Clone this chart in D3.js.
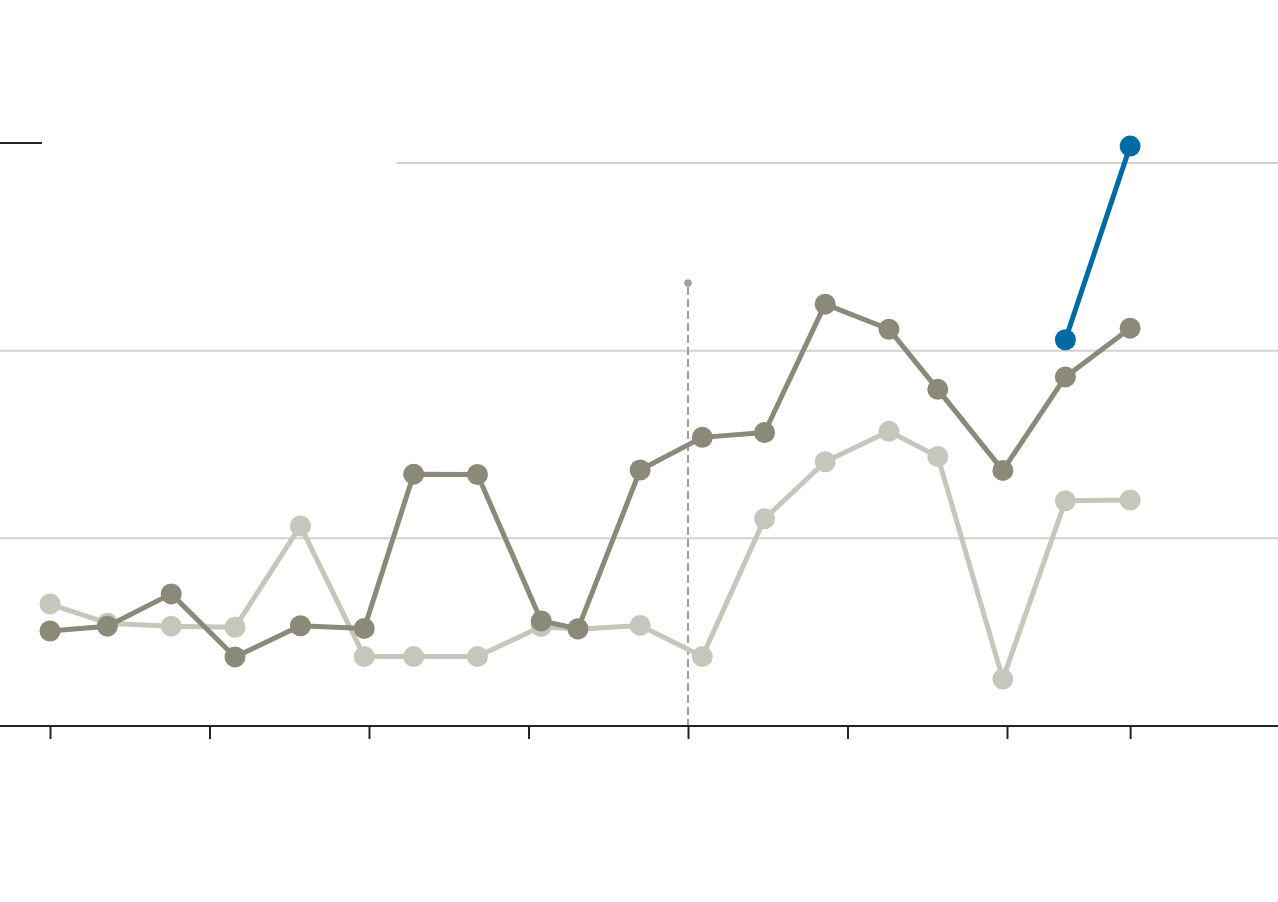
<!DOCTYPE html>
<html>
<head>
<meta charset="utf-8">
<script src="https://cdn.jsdelivr.net/npm/d3@7"></script>
<style>
  html, body { margin: 0; padding: 0; background: #fff; }
  svg { display: block; }
</style>
</head>
<body>
<svg id="chart" width="1278" height="902"></svg>
<script>
// ---- data ----
const years = [1980.0, 1981.8, 1983.8, 1985.8, 1987.85, 1989.85, 1991.4, 1993.4, 1995.4, 1996.55,
               1998.5, 2000.45, 2002.4, 2004.3, 2006.3, 2007.83, 2009.87, 2011.83, 2013.86];
const darkSeries = [2.53, 2.66, 3.52, 1.84, 2.67, 2.60, 6.71, 6.70, 2.80, 2.59,
                    6.82, 7.69, 7.82, 11.24, 10.57, 8.97, 6.81, 9.30, 10.60];
const lightSeries = [3.25, 2.74, 2.66, 2.63, 5.33, 1.85, 1.85, 1.85, 2.65, 2.58,
                     2.68, 1.85, 5.52, 7.04, 7.85, 7.18, 1.25, 6.00, 6.02];
const blueYears = [2011.83, 2013.86];
const blueSeries = [10.29, 15.45];
const xTickValues = [1980, 1985, 1990, 1995, 2000, 2005, 2010, 2013.86];
const gridValues = [5, 10, 15];
const markerYear = 2000;

// ---- layout ----
const W = 1278, H = 902;
const baseY = 726;
const svg = d3.select("#chart");

const x = d3.scaleLinear().domain([1980, 2010]).range([50, 1007]);
const y = d3.scaleLinear().domain([0, 15]).range([baseY, 163]);

const colDark = "#8b8977", colLight = "#c6c6bd", colBlue = "#006aa2";

// gridlines
svg.append("g").selectAll("line").data(gridValues).join("line")
  .attr("x1", d => d === 15 ? 397 : 0)
  .attr("x2", W)
  .attr("y1", d => y(d)).attr("y2", d => y(d))
  .attr("stroke", "#d2d2d2").attr("stroke-width", 2);

// top-left rule
svg.append("line").attr("x1", 0).attr("x2", 42).attr("y1", 143).attr("y2", 143)
  .attr("stroke", "#222").attr("stroke-width", 2);

// dashed marker line
svg.append("line")
  .attr("x1", x(markerYear)).attr("x2", x(markerYear))
  .attr("y1", 287).attr("y2", baseY)
  .attr("stroke", "#a0a0a0").attr("stroke-width", 2)
  .attr("stroke-dasharray", "8,4");
svg.append("circle").attr("cx", x(markerYear)).attr("cy", 283).attr("r", 3.8)
  .attr("fill", "#a0a0a0");

// x axis
const axis = d3.axisBottom(x).tickValues(xTickValues).tickSize(13).tickFormat("");
const ag = svg.append("g").attr("transform", `translate(0,${baseY})`).call(axis);
ag.select(".domain").remove();
ag.selectAll(".tick line").attr("stroke", "#222").attr("stroke-width", 2);
svg.append("line").attr("x1", 0).attr("x2", W).attr("y1", baseY).attr("y2", baseY)
  .attr("stroke", "#222").attr("stroke-width", 2);

// series
const line = d3.line().x(d => x(d[0])).y(d => y(d[1]));
function drawSeries(xs, vals, color) {
  const pts = xs.map((t, i) => [t, vals[i]]);
  const g = svg.append("g");
  g.append("path").datum(pts).attr("d", line)
    .attr("fill", "none").attr("stroke", color).attr("stroke-width", 5)
    .attr("stroke-linejoin", "round");
  g.selectAll("circle").data(pts).join("circle")
    .attr("cx", d => x(d[0])).attr("cy", d => y(d[1])).attr("r", 10.5)
    .attr("fill", color);
}
drawSeries(years, lightSeries, colLight);
drawSeries(years, darkSeries, colDark);
drawSeries(blueYears, blueSeries, colBlue);
</script>
</body>
</html>
